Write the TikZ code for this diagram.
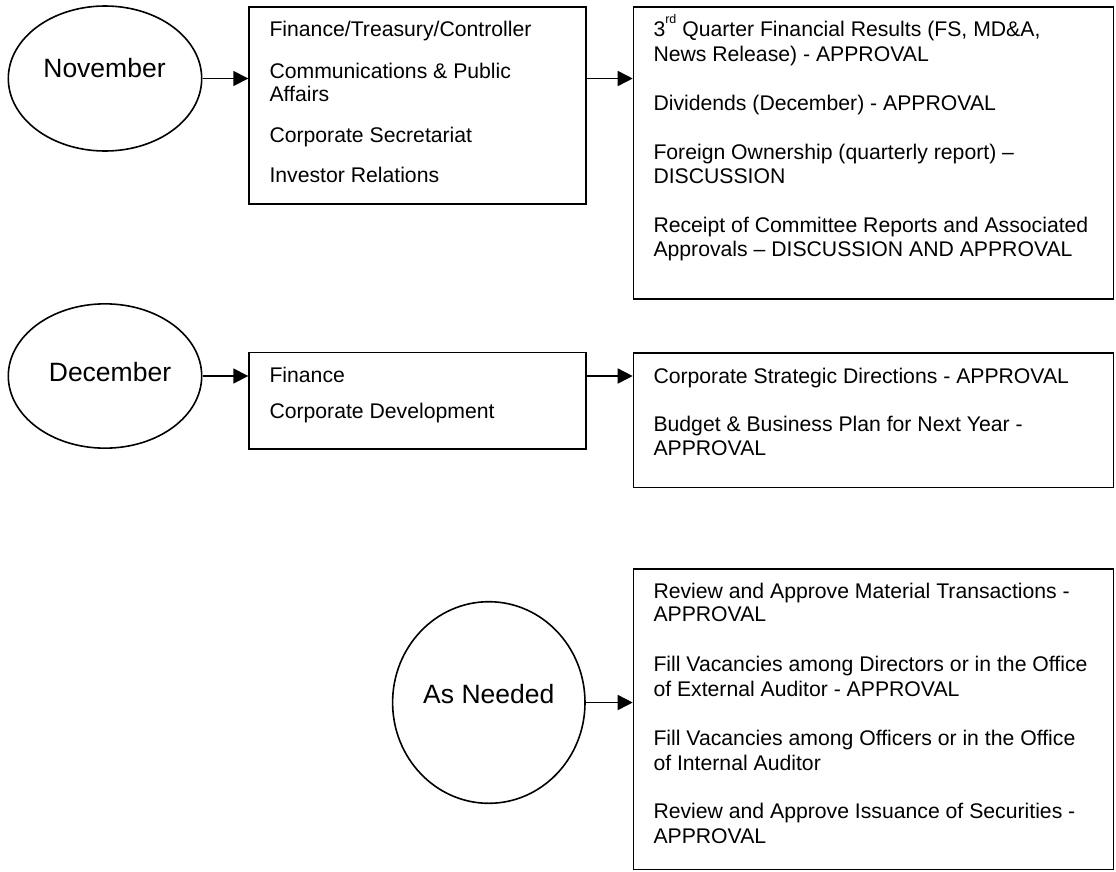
\documentclass[tikz,border=0pt]{standalone}
\usepackage{fontspec}
\setmainfont{Liberation Sans}
\usetikzlibrary{arrows.meta,shapes.geometric}
\newcommand{\supsmall}[1]{\raisebox{0.62em}{\fontsize{12.5}{13}\selectfont #1}}
\begin{document}
\begin{tikzpicture}[x=1pt,y=-1pt,
  boxstyle/.style={draw,line width=1.6pt,rectangle,anchor=north west,inner sep=0pt},
  ovalstyle/.style={draw,line width=1.6pt,ellipse,inner sep=0pt},
  txt/.style={anchor=base west,inner sep=0pt,font=\fontsize{21.2}{24}\selectfont},
  big/.style={anchor=base,inner sep=0pt,font=\fontsize{26.5}{30}\selectfont},
  arr/.style={line width=1.6pt,-{Triangle[length=15pt,width=15pt]}}]
\useasboundingbox (0,0) rectangle (1116,871);

% ovals
\node[ovalstyle,minimum width=193.4pt,minimum height=145pt] (nov) at (105,78.5) {};
\node[ovalstyle,minimum width=193.4pt,minimum height=144.3pt] (dec) at (105,376) {};
\node[ovalstyle,minimum width=192.4pt,minimum height=201.6pt] (need) at (488.8,702.5) {};
\node[big] (novt) at (104.5,77.3) {November};
\node[big] (dect) at (110,381) {December};
\node[big] (needt) at (488.8,703.3) {As Needed};

% boxes
\node[boxstyle,minimum width=336.7pt,minimum height=197pt] (b1) at (248.3,6) {};
\node[boxstyle,minimum width=480pt,minimum height=292pt] (r1) at (632.7,6) {};
\node[boxstyle,minimum width=336.7pt,minimum height=96.6pt] (b2) at (248.3,351.7) {};
\node[boxstyle,minimum width=480pt,minimum height=134.7pt] (r2) at (632.7,352) {};
\node[boxstyle,minimum width=480pt,minimum height=300.4pt] (r3) at (632.7,568.3) {};

% arrows
\draw[arr] (nov.east) -- (nov.east -| b1.west);
\draw[arr] (b1.east |- nov.east) -- (nov.east -| r1.west);
\draw[arr] (dec.east) -- (dec.east -| b2.west);
\draw[arr] (b2.east |- dec.east) -- (dec.east -| r2.west);
\draw[arr] (need.east) -- (need.east -| r3.west);

% November departments
\node[txt] (b1a) at (269.3,36.7) {Finance/Treasury/Controller};
\node[txt] (b1b) at (269.3,78.3) {Communications \& Public};
\node[txt] (b1c) at (269.3,101.7) {Affairs};
\node[txt] (b1d) at (269.3,142.7) {Corporate Secretariat};
\node[txt] (b1e) at (269.3,182.7) {Investor Relations};

% November items
\node[txt] (r1a) at (653.3,36.7) {3\supsmall{rd} Quarter Financial Results (FS, MD\&A,};
\node[txt] (r1b) at (653.3,61.7) {News Release) - APPROVAL};
\node[txt] (r1c) at (653.3,110) {Dividends (December) - APPROVAL};
\node[txt] (r1d) at (653.3,159.3) {Foreign Ownership (quarterly report) –};
\node[txt] (r1e) at (653.3,183.3) {DISCUSSION};
\node[txt] (r1f) at (653.3,232.3) {Receipt of Committee Reports and Associated};
\node[txt] (r1g) at (653.3,256.7) {Approvals – DISCUSSION AND APPROVAL};

% December departments
\node[txt] (b2a) at (269.3,382.7) {Finance};
\node[txt] (b2b) at (269.3,418.3) {Corporate Development};

% December items
\node[txt] (r2a) at (653.3,383) {Corporate Strategic Directions - APPROVAL};
\node[txt] (r2b) at (653.3,431.7) {Budget \& Business Plan for Next Year -};
\node[txt] (r2c) at (653.3,455.7) {APPROVAL};

% As needed items
\node[txt] (r3a) at (653.3,598.3) {Review and Approve Material Transactions -};
\node[txt] (r3b) at (653.3,621.7) {APPROVAL};
\node[txt] (r3c) at (653.3,671.7) {Fill Vacancies among Directors or in the Office};
\node[txt] (r3d) at (653.3,696.7) {of External Auditor - APPROVAL};
\node[txt] (r3e) at (653.3,745) {Fill Vacancies among Officers or in the Office};
\node[txt] (r3f) at (653.3,770) {of Internal Auditor};
\node[txt] (r3g) at (653.3,818.3) {Review and Approve Issuance of Securities -};
\node[txt] (r3h) at (653.3,843.3) {APPROVAL};
\end{tikzpicture}
\end{document}
